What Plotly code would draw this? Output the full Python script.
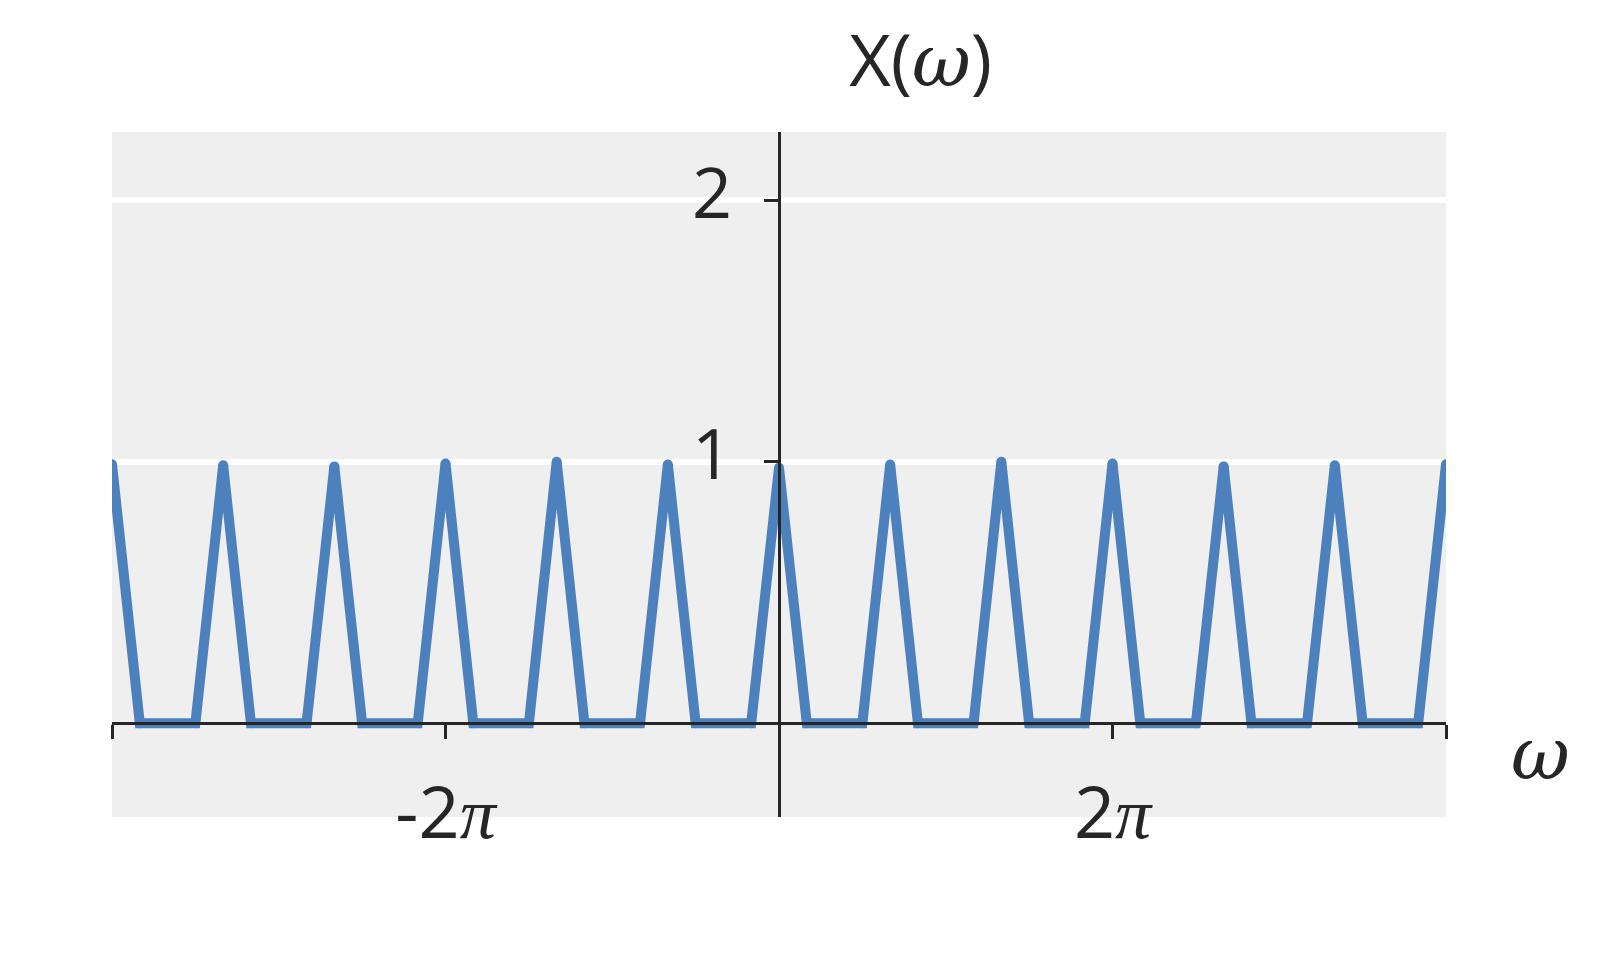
import math
import plotly.graph_objects as go

# breakpoints of the periodic triangle spectrum, in units of pi
w_over_pi = [-4.0, -3.8333, -3.5, -3.3333, -3.1667, -2.8333, -2.6667, -2.5,
             -2.1667, -2.0, -1.8333, -1.5, -1.3333, -1.1667, -0.8333, -0.6667,
             -0.5, -0.1667, 0.0, 0.1667, 0.5, 0.6667, 0.8333, 1.1667, 1.3333,
             1.5, 1.8333, 2.0, 2.1667, 2.5, 2.6667, 2.8333, 3.1667, 3.3333,
             3.5, 3.8333, 4.0]
x_vals = [0.99, 0.0, 0.0, 0.986, 0.0, 0.0, 0.982, 0.0, 0.0, 0.993, 0.0, 0.0,
          1.0, 0.0, 0.0, 0.989, 0.0, 0.0, 0.977, 0.0, 0.0, 0.989, 0.0, 0.0,
          1.0, 0.0, 0.0, 0.993, 0.0, 0.0, 0.982, 0.0, 0.0, 0.986, 0.0, 0.0,
          0.99]

xtick_pi = [-4, -2, 0, 2, 4]
OMEGA = "<span style=\"font-family:'DejaVu Serif';font-style:italic\">ω</span>"
PI = "<span style=\"font-family:'Liberation Serif';font-style:italic\">π</span>"
xtick_text = ["", "-2" + PI, "", "2" + PI, ""]
ytick_vals = [1, 2]

COR_LINHA = '#4C81BE'
COR_EIXO = '#262626'
COR_FUNDO = '#EFEFEF'
FONTE = 'Open Sans'
LARGURA = 10

omega = [v * math.pi for v in w_over_pi]
y_range = [-0.358, 2.26]

# markers the size of the stroke give the rounded joins of the original
fig = go.Figure(go.Scatter(x=omega, y=x_vals, mode='lines+markers',
                           line=dict(color=COR_LINHA, width=LARGURA),
                           marker=dict(color=COR_LINHA, size=LARGURA,
                                       line=dict(width=0)),
                           hoverinfo='skip'))

# the page body adds an 8px margin, so the figure is 8px smaller
fig.update_layout(
    width=1590, height=952,
    paper_bgcolor='white', plot_bgcolor=COR_FUNDO,
    margin=dict(l=104, r=152, t=124, b=143),
    showlegend=False,
    font=dict(family=FONTE, size=70, color=COR_EIXO),
    title=dict(text="X(" + OMEGA + ")", font=dict(size=72),
               x=0.574, xanchor='center', y=0.945, yanchor='middle'),
    xaxis=dict(
        range=[-4 * math.pi, 4 * math.pi],
        tickvals=[t * math.pi for t in xtick_pi], ticktext=xtick_text,
        anchor='free', position=(0 - y_range[0]) / (y_range[1] - y_range[0]),
        showline=True, linecolor=COR_EIXO, linewidth=3,
        ticks='outside', ticklen=14, tickwidth=3, tickcolor=COR_EIXO,
        ticklabelstandoff=12, tickfont=dict(size=72),
        showgrid=False, zeroline=False,
    ),
    yaxis=dict(
        range=y_range, tickvals=ytick_vals,
        anchor='free', position=0.5,
        showline=True, linecolor=COR_EIXO, linewidth=3,
        ticks='outside', ticklen=14, tickwidth=3, tickcolor=COR_EIXO,
        ticklabelstandoff=18, ticklabelshift=-7,
        showgrid=True, gridcolor='white', gridwidth=6, zeroline=False,
    ),
)

fig.add_annotation(text=OMEGA, xref='paper', yref='paper',
                   x=1.0705, y=0.092, showarrow=False, font=dict(size=72),
                   xanchor='center', yanchor='middle')

fig.write_html("out.html")
